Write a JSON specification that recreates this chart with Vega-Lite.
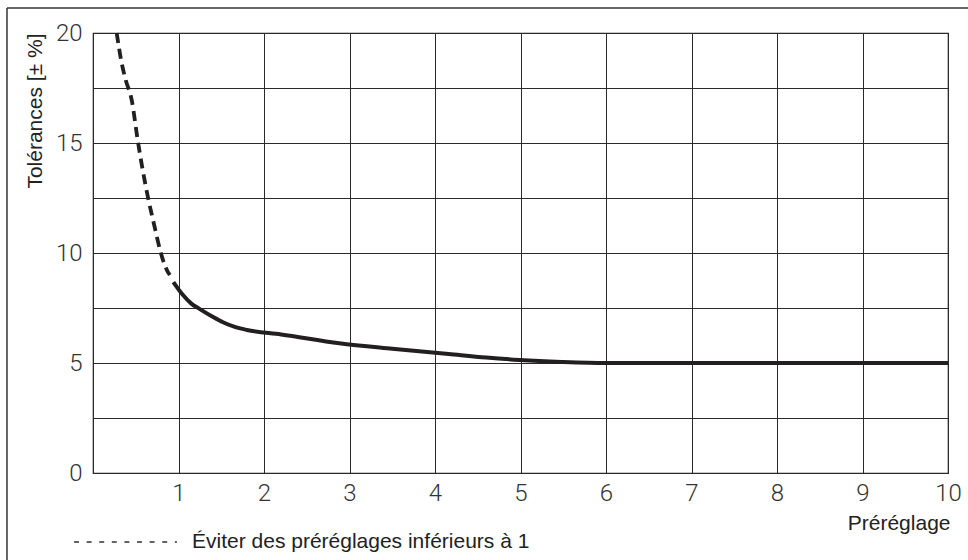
{
  "$schema": "https://vega.github.io/schema/vega-lite/v6.json",
  "width": 855,
  "height": 440,
  "autosize": {"type": "none"},
  "padding": {"left": 93, "top": 33, "right": 20, "bottom": 87},
  "background": "white",
  "config": {
    "view": {"stroke": "#222", "strokeWidth": 1.2},
    "axis": {"gridColor": "#2a2a2a", "gridOpacity": 1, "gridWidth": 1, "domain": false, "ticks": false,
      "labelFont": "Roboto", "labelFontWeight": 300, "labelFontSize": 24, "labelColor": "#333",
      "titleFont": "Liberation Sans, Arial, sans-serif", "titleFontWeight": "normal", "titleFontSize": 21, "titleColor": "#222"}
  },
  "datasets": {
    "curve": [
      {"x": 0.277, "y": 20, "seg": "dashed"},
      {"x": 0.335, "y": 18.64, "seg": "dashed"},
      {"x": 0.383, "y": 17.86, "seg": "dashed"},
      {"x": 0.453, "y": 16.95, "seg": "dashed"},
      {"x": 0.524, "y": 15.1, "seg": "dashed"},
      {"x": 0.58, "y": 13.8, "seg": "dashed"},
      {"x": 0.65, "y": 12.4, "seg": "dashed"},
      {"x": 0.72, "y": 11.2, "seg": "dashed"},
      {"x": 0.79, "y": 10.05, "seg": "dashed"},
      {"x": 0.83, "y": 9.55, "seg": "dashed"},
      {"x": 0.87, "y": 9.18, "seg": "dashed"},
      {"x": 0.9, "y": 9.0, "seg": "dashed"},
      {"x": 0.94, "y": 8.68, "seg": "solid"},
      {"x": 1.05, "y": 8.1, "seg": "solid"},
      {"x": 1.15, "y": 7.7, "seg": "solid"},
      {"x": 1.25, "y": 7.45, "seg": "solid"},
      {"x": 1.4, "y": 7.1, "seg": "solid"},
      {"x": 1.52, "y": 6.85, "seg": "solid"},
      {"x": 1.65, "y": 6.65, "seg": "solid"},
      {"x": 1.8, "y": 6.5, "seg": "solid"},
      {"x": 2.2, "y": 6.3, "seg": "solid"},
      {"x": 2.88, "y": 5.9, "seg": "solid"},
      {"x": 3.5, "y": 5.65, "seg": "solid"},
      {"x": 4.16, "y": 5.41, "seg": "solid"},
      {"x": 4.6, "y": 5.25, "seg": "solid"},
      {"x": 4.99, "y": 5.14, "seg": "solid"},
      {"x": 5.48, "y": 5.05, "seg": "solid"},
      {"x": 6.0, "y": 5.0, "seg": "solid"},
      {"x": 10.0, "y": 5.0, "seg": "solid"}
    ],
    "note": [{"label": "Éviter des préréglages inférieurs à 1"}]
  },
  "layer": [
    {
      "data": {"name": "curve"},
      "transform": [{"filter": "datum.seg == 'dashed'"}],
      "mark": {"type": "line", "color": "#231f20", "strokeWidth": 3.8, "strokeDash": [10, 6], "interpolate": "monotone"},
      "encoding": {
        "x": {"field": "x", "type": "quantitative",
          "scale": {"domain": [0, 10], "nice": false, "zero": false},
          "axis": {"values": [0,0.5,1,1.5,2,2.5,3,3.5,4,4.5,5,5.5,6,6.5,7,7.5,8,8.5,9,9.5,10],
            "format": "d",
            "labelExpr": "datum.value % 1 == 0 && datum.value > 0 ? datum.label : ''",
            "labelPadding": 8, "labelFlush": false,
            "title": "Préréglage", "titleAnchor": null, "titleX": 857, "titleY": 50,
            "titleAlign": "right", "titleBaseline": "middle"}},
        "y": {"field": "y", "type": "quantitative",
          "scale": {"domain": [0, 20], "nice": false},
          "axis": {"values": [0,2.5,5,7.5,10,12.5,15,17.5,20],
            "labelExpr": "datum.value % 5 == 0 ? datum.label : ''",
            "labelPadding": 11, "labelFlush": false,
            "title": "Tolérances [± %]", "titleAngle": -90, "titleAnchor": null,
            "titleX": -58, "titleY": 0, "titleAlign": "right", "titleBaseline": "middle"}}
      }
    },
    {
      "data": {"name": "curve"},
      "transform": [{"filter": "datum.seg == 'solid'"}],
      "mark": {"type": "line", "color": "#231f20", "strokeWidth": 4, "interpolate": "monotone"},
      "encoding": {
        "x": {"field": "x", "type": "quantitative"},
        "y": {"field": "y", "type": "quantitative"}
      }
    },
    {
      "data": {"name": "note"},
      "mark": {"type": "rule", "color": "#333", "strokeWidth": 1.6, "strokeDash": [5, 7.6]},
      "encoding": {"x": {"datum": -0.222, "type": "quantitative"}, "x2": {"datum": 0.982}, "y": {"datum": -3.136, "type": "quantitative"}}
    },
    {
      "data": {"name": "note"},
      "mark": {"type": "text", "align": "left", "baseline": "middle", "font": "Liberation Sans, Arial, sans-serif", "fontSize": 21, "color": "#222"},
      "encoding": {"x": {"datum": 1.158, "type": "quantitative"}, "y": {"datum": -3.136, "type": "quantitative"}, "text": {"field": "label"}}
    },
    {
      "data": {"name": "note"},
      "mark": {"type": "rule", "color": "#333", "strokeWidth": 1.5},
      "encoding": {"x": {"datum": -1.006, "type": "quantitative"}, "x2": {"datum": 10.35}, "y": {"datum": 21.14, "type": "quantitative"}}
    },
    {
      "data": {"name": "note"},
      "mark": {"type": "rule", "color": "#333", "strokeWidth": 1.5},
      "encoding": {"x": {"datum": -1.006, "type": "quantitative"}, "y": {"datum": 21.14, "type": "quantitative"}, "y2": {"datum": -4.0}}
    }
  ]
}
